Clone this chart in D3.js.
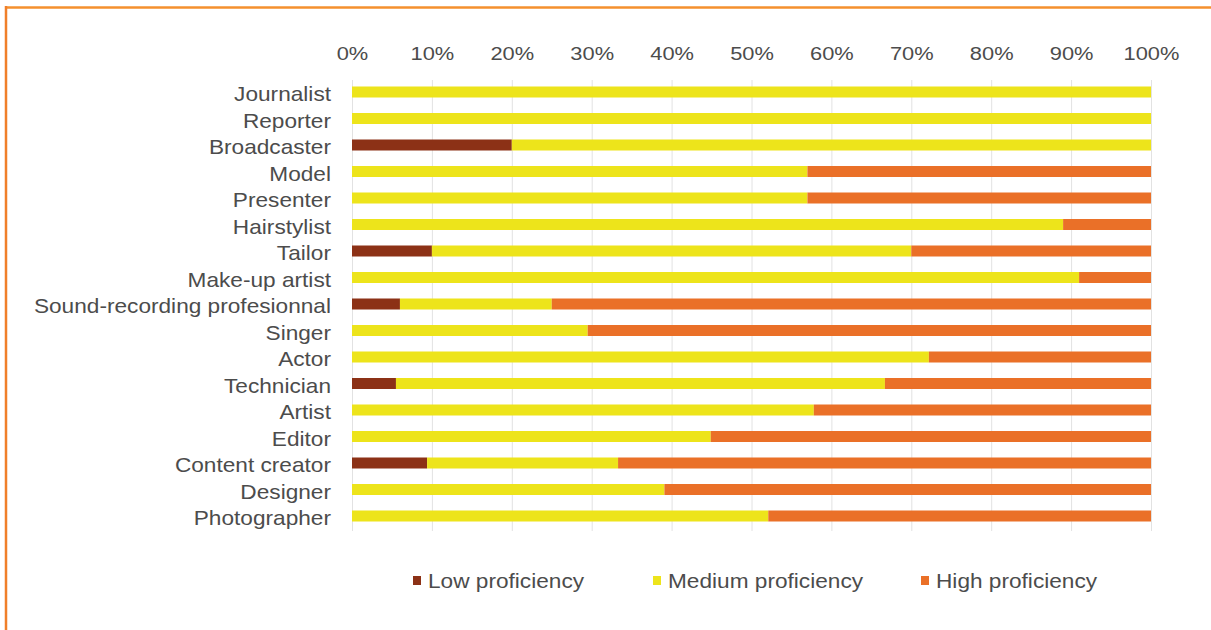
<!DOCTYPE html>
<html lang="en">
<head>
<meta charset="UTF-8">
<title>Proficiency by occupation</title>
<script src="https://d3js.org/d3.v7.min.js"></script>
<style>
  html, body { margin: 0; padding: 0; background: #fff; }
  svg { display: block; }
  text { font-family: "Liberation Sans", Arial, sans-serif; fill: #4c4c4c; }
</style>
</head>
<body>
<svg id="chart"></svg>
<script>
// données (en %)
const categories = ["Journalist", "Reporter", "Broadcaster", "Model", "Presenter", "Hairstylist",
  "Tailor", "Make-up artist", "Sound-recording profesionnal", "Singer", "Actor", "Technician",
  "Artist", "Editor", "Content creator", "Designer", "Photographer"];
const lowValues    = [0, 0, 20, 0, 0, 0, 10, 0, 6, 0, 0, 5.5, 0, 0, 9.4, 0, 0];
const mediumValues = [100, 100, 80, 57, 57, 89, 60, 91, 19, 29.5, 72.2, 61.2, 57.8, 44.9, 23.9, 39.1, 52.1];
const highValues   = [0, 0, 0, 43, 43, 11, 30, 9, 75, 70.5, 27.8, 33.3, 42.2, 55.1, 66.7, 60.9, 47.9];
const seriesNames  = ["Low proficiency", "Medium proficiency", "High proficiency"];
const seriesColors = ["#8c3116", "#ede41b", "#ea7028"];
const tickValues   = [0, 10, 20, 30, 40, 50, 60, 70, 80, 90, 100];

const width = 1211, height = 630;
const svg = d3.select("#chart").attr("width", width).attr("height", height);

// cadre orange (haut + gauche)
svg.append("line").attr("x1", 5).attr("x2", width).attr("y1", 7.5).attr("y2", 7.5)
  .attr("stroke", "#f5902e").attr("stroke-width", 2.5);
svg.append("line").attr("x1", 6).attr("x2", 6).attr("y1", 6).attr("y2", height)
  .attr("stroke", "#f07f2a").attr("stroke-width", 2.5);

const x = d3.scaleLinear().domain([0, 100]).range([352, 1151]);
const y = d3.scaleBand().domain(categories).range([78.75, 529.25])
  .paddingInner(0.585).paddingOuter(0.2925);

const stretch = "scale(1.15,1)";

// grille verticale
svg.append("g").selectAll("line")
  .data(tickValues).enter().append("line")
  .attr("x1", d => x(d) + 0.5).attr("x2", d => x(d) + 0.5)
  .attr("y1", 80).attr("y2", 531)
  .attr("stroke", "#e2e2e2").attr("stroke-width", 1);

// axe du haut
const xAxis = svg.append("g").attr("transform", "translate(0,54)")
  .call(d3.axisTop(x).tickValues(tickValues).tickFormat(d => d + "%").tickSize(0).tickPadding(0));
xAxis.select(".domain").remove();
xAxis.selectAll("text")
  .attr("font-size", "19px").attr("dy", "0.32em")
  .attr("transform", stretch);

// axe de gauche
const yAxis = svg.append("g").attr("transform", "translate(331,0)")
  .call(d3.axisLeft(y).tickSize(0).tickPadding(0));
yAxis.select(".domain").remove();
yAxis.selectAll("text")
  .attr("font-size", "19.7px").attr("dy", "0.47em")
  .attr("transform", stretch);

// barres empilées
const rows = categories.map((c, i) => ({ category: c, values: [lowValues[i], mediumValues[i], highValues[i]] }));
const stacked = d3.stack().keys([0, 1, 2]).value((d, k) => d.values[k])(rows);

svg.append("g").selectAll("g")
  .data(stacked).enter().append("g")
  .attr("fill", (d, i) => seriesColors[i])
  .selectAll("rect")
  .data(d => d.filter(s => s[1] - s[0] > 0))
  .enter().append("rect")
  .attr("x", d => x(d[0]))
  .attr("y", d => y(d.data.category))
  .attr("width", d => x(d[1]) - x(d[0]))
  .attr("height", y.bandwidth());

// légende
const legendX = [413, 653, 921];
const legend = svg.append("g").selectAll("g")
  .data(seriesNames).enter().append("g")
  .attr("transform", (d, i) => `translate(${legendX[i]},581)`);
legend.append("rect")
  .attr("x", 0).attr("y", -5).attr("width", 8).attr("height", 9)
  .attr("fill", (d, i) => seriesColors[i]);
legend.append("text")
  .attr("x", 15).attr("dy", "0.36em")
  .attr("font-size", "19.7px")
  .attr("transform", "translate(15,0) scale(1.15,1) translate(-15,0)")
  .text(d => d);
</script>
</body>
</html>
